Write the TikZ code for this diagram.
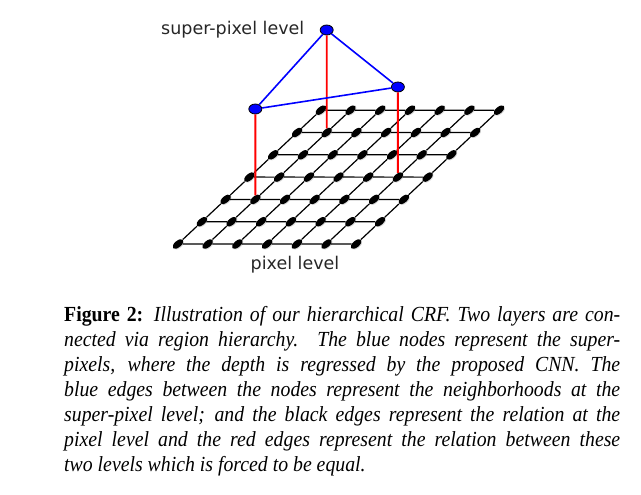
\documentclass[tikz,border=0pt]{standalone}
\usepackage{fontspec}
\setmainfont[FakeStretch=0.92]{Liberation Serif}
\newfontfamily\dejavu{DejaVu Sans}
\usetikzlibrary{positioning,shapes.geometric,shadows}

\begin{document}
\begin{tikzpicture}[
    x=1pt, y=-1pt,
    px/.style={shape=ellipse,fill=black,inner sep=0pt,
        minimum width=13pt,minimum height=6.5pt,rotate=40,
        drop shadow={opacity=0.3,shadow xshift=0.8pt,shadow yshift=-0.8pt}},
    sp/.style={shape=ellipse,fill=blue,draw=black,line width=0.8pt,
        inner sep=0pt,minimum width=13pt,minimum height=10pt},
    pxedge/.style={line width=1.2pt},
    spedge/.style={blue,line width=1.6pt},
    lnk/.style={red,line width=1.9pt},
    lbl/.style={font=\dejavu\fontsize{17.5}{21}\selectfont,text=black!85}
]
\useasboundingbox (0,0) rectangle (641,495);

% pixel level grid
\foreach \c in {0,...,6}
  \foreach \r in {0,...,6}
    \node[px] (p-\c-\r) at ({178+29.7*\c+23.8*\r},{244-22.3*\r}) {};

\foreach \c [count=\n] in {0,...,5}
  \foreach \r in {0,...,6} {
    \draw[pxedge] (p-\c-\r) -- (p-\n-\r);
    \draw[pxedge] (p-\r-\c) -- (p-\r-\n);
  }

% super-pixel level
\node[sp] (s1) at (p-1-5 |- 0,30) {};
\node[sp] (s2) at (p-1-2 |- 0,109) {};
\node[sp] (s3) at (p-5-3 |- 0,87) {};

% region hierarchy
\draw[lnk] (s1) -- (p-1-5);
\draw[lnk] (s2) -- (p-1-2);
\draw[lnk] (s3) -- (p-5-3);

\draw[spedge] (s1) -- (s2);
\draw[spedge] (s1) -- (s3);
\draw[spedge] (s2) -- (s3);

% labels
\node[lbl,left=12pt of s1] (sptext) {super-pixel level};
\node[lbl] (pxtext) at (295,265) {pixel level};

% caption
\node[anchor=north west,inner sep=0pt,text width=556pt,align=justify,
    font=\fontsize{21.5}{25}\selectfont] (cap) at (64,306)
{\textbf{Figure 2:} \textit{Illustration of our hierarchical CRF. Two layers are con-\linebreak
nected via region hierarchy. The blue nodes represent the super-\linebreak
pixels, where the depth is regressed by the proposed CNN. The\linebreak
blue edges between the nodes represent the neighborhoods at the\linebreak
super-pixel level; and the black edges represent the relation at the\linebreak
pixel level and the red edges represent the relation between these\linebreak
two levels which is forced to be equal.}};

\end{tikzpicture}
\end{document}
